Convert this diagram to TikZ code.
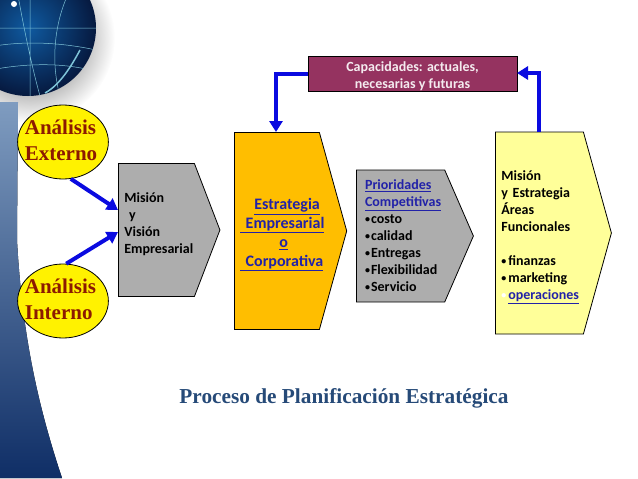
\documentclass[tikz,border=0pt]{standalone}
\usepackage{fontspec}
\setmainfont{Carlito}
\newfontfamily\serifbold{Liberation Serif}
\usetikzlibrary{arrows.meta,shapes.geometric,shapes.symbols}
\definecolor{flechaazul}{HTML}{0A0AE0}
\definecolor{grisbloque}{HTML}{ADADAD}
\definecolor{naranja}{HTML}{FFBE00}
\definecolor{amarillo}{HTML}{FFFF99}
\definecolor{granate}{HTML}{953360}
\definecolor{rojoosc}{HTML}{8C1A00}
\definecolor{enlace}{HTML}{2222A8}
\definecolor{titulo}{HTML}{264A78}
\definecolor{bandaalta}{HTML}{7F9CC0}
\definecolor{bandabaja}{HTML}{0F2E66}
\definecolor{globoclaro}{HTML}{0F5AA0}
\definecolor{globooscuro}{HTML}{06193F}
\definecolor{meridiano}{HTML}{7FC4D8}
\tikzset{
  analisis/.style={draw,ellipse,fill=yellow,line width=0.8pt,minimum width=90pt,minimum height=74pt,
    inner xsep=-6pt,inner ysep=-1pt,text=rojoosc,align=left,font=\serifbold\bfseries\fontsize{21}{26}\selectfont},
  bloque/.style={draw,signal,signal to=east,line width=0.8pt,inner ysep=0pt,align=left,
    font=\bfseries\fontsize{14}{17}\selectfont},
  flecha/.style={draw=flechaazul,line width=4pt,-{Triangle[length=11pt,width=13pt]}},
}
\newcommand{\enl}[1]{\textcolor{enlace}{\underline{#1}}}
\newcommand{\vin}{{\fontsize{10}{17}\selectfont\raisebox{1pt}{•}}\kern1pt}
\newcommand{\hueco}[1]{\rule[-#1]{0pt}{#1}}
\begin{document}
\begin{tikzpicture}[x=1pt,y=-1pt]
\useasboundingbox (0,0) rectangle (638,479);
% fondo
\shade[inner color=black!75,outer color=white] (30,38) circle (85);
\fill[top color=bandaalta,bottom color=bandabaja] (0,102) -- (18,102) -- (17,240) .. controls (22,330) and (36,400) .. (62,478) -- (0,478) -- cycle;
\shade[inner color=globoclaro,outer color=globooscuro] (28,28) circle (68);
\begin{scope}
\clip (28,28) circle (68);
\draw[meridiano,line width=0.5pt] (-40,28) -- (96,28) (-40,55) .. controls (0,40) and (50,40) .. (96,50)
  (-40,78) .. controls (0,65) and (50,60) .. (90,70);
\draw[meridiano,line width=0.5pt] (30,-40) -- (30,96) (12,-40) .. controls (20,10) and (30,60) .. (40,96)
  (70,-10) .. controls (55,20) and (50,60) .. (60,96);
\draw[meridiano,line width=1.5pt] (45,93) .. controls (60,85) and (72,65) .. (80,50);
\fill[white] (14,4) circle (3);
\end{scope}
% nodos
\node[analisis] at (63,142) (ext) {Análisis\hspace*{5pt}\\Externo\hueco{3pt}};
\node[analisis] at (63,301) (int) {Análisis\hspace*{5pt}\\Interno\hueco{3pt}};
\node[bloque,fill=grisbloque,signal pointer angle=138,minimum width=100pt,minimum height=133pt,inner xsep=6pt,text width=64pt,anchor=west] at (118,230) (mision) {Misión\\\ y\\Visión\\Empresarial\hueco{14pt}};
\node[bloque,fill=naranja,signal pointer angle=149,minimum width=112pt,minimum height=197pt,inner xsep=0pt,text width=85pt,anchor=west,font=\bfseries\fontsize{16}{19}\selectfont] at (234,231) (estrategia) {\rule{0pt}{19pt}\hspace*{20pt}\enl{Estrategia}\\\hspace*{6pt}\enl{ Empresarial}\\\hspace*{45pt}\enl{o}\\\hspace*{6pt}\enl{ Corporativa}};
\node[bloque,fill=grisbloque,signal pointer angle=133,minimum width=117pt,minimum height=132pt,inner xsep=7pt,text width=71pt,anchor=west] at (356,236) (prioridades) {\enl{Prioridades}\\\enl{Competitivas}\\\vin costo\\\vin calidad\\\vin Entregas\\\vin Flexibilidad\\\vin Servicio};
\node[bloque,fill=amarillo,signal pointer angle=149,minimum width=116pt,minimum height=202pt,inner xsep=6pt,text width=76pt,anchor=west] at (495,233) (areas) {\rule{0pt}{19pt}Misión\\y Estrategia\\Áreas\\Funcionales\\[17pt]\vin\kern1pt finanzas\\\vin\kern1pt marketing\\\textcolor{white}{\vin}\kern1pt\enl{operaciones}};
\node[draw,fill=granate,line width=0.8pt,minimum width=209pt,minimum height=32pt,inner sep=0pt,text=white!90!granate,align=center,font=\bfseries\fontsize{14}{17}\selectfont] at (412.5,74) (capacidades) {\rule{0pt}{15pt}Capacidades: actuales,\\necesarias y futuras};
\node[text=titulo,font=\serifbold\bfseries\fontsize{21.3}{25}\selectfont] at (344,398) (proceso) {Proceso de Planificación Estratégica};
% flechas
\coordinate (m1) at (118,210);
\coordinate (m2) at (118,232);
\coordinate (c1) at (276,74);
\coordinate (c2) at (276,132);
\coordinate (a1) at (539,132);
\coordinate (a2) at (539,73);
\coordinate (c3) at (517,73);
\draw[flecha] (ext.-78) -- (m1);
\draw[flecha] (int.85) -- (m2);
\draw[flecha] (capacidades.west |- c1) -- (c1) -- (c2);
\draw[flecha] (a1) -- (a2) -- (c3);
\end{tikzpicture}
\end{document}
